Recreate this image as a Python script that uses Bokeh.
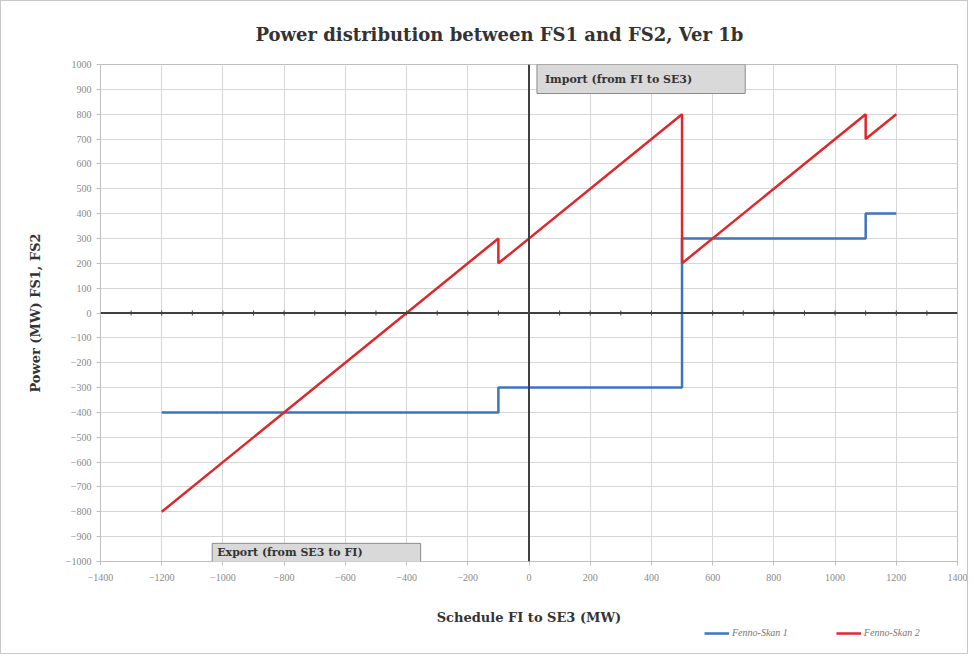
from bokeh.plotting import figure
from bokeh.layouts import column
from bokeh.models import Range1d, Span, Label, FixedTicker, Title, Legend, LegendItem
from bokeh.embed import file_html
from bokeh.resources import INLINE

# ---- data ----
fs1_x = [-1200, -100, -100, 500, 500, 1100, 1100, 1200]
fs1_y = [-400, -400, -300, -300, 300, 300, 400, 400]
fs2_x = [-1200, -100, -100, 500, 500, 1100, 1100, 1200]
fs2_y = [-800, 300, 200, 800, 200, 800, 700, 800]
series_names = ["Fenno-Skan 1", "Fenno-Skan 2"]
x_ticks = list(range(-1400, 1401, 200))
y_ticks = list(range(-1000, 1001, 100))
zero_axis_ticks = [v for v in range(-1300, 1301, 100) if v != 0]

SERIF = "Liberation Serif"
WIDE_SERIF = "DejaVu Serif"
BLUE = "#3d74be"
RED = "#e0282c"

p = figure(width=966, height=626, output_backend="svg", toolbar_location=None,
           x_range=Range1d(-1400, 1400), y_range=Range1d(-1000, 1000),
           min_border_left=99, min_border_right=10, min_border_top=63,
           min_border_bottom=66)

p.title = Title(text="Power distribution between FS1 and FS2, Ver 1b",
                text_font=WIDE_SERIF, text_font_size="18px", text_font_style="bold",
                text_color="#333333", align="left", offset=155, standoff=40)

p.outline_line_color = "#bfbfbf"
p.xaxis.ticker = FixedTicker(ticks=x_ticks)
p.yaxis.ticker = FixedTicker(ticks=y_ticks)
for ax in (p.xaxis, p.yaxis):
    ax.axis_line_color = "#bfbfbf"
    ax.major_tick_line_color = "#bfbfbf"
    ax.major_tick_out = 4
    ax.major_tick_in = 0
    ax.minor_tick_line_color = None
    ax.major_label_text_font = SERIF
    ax.major_label_text_font_size = "10px"
    ax.major_label_text_color = "#8a8a8a"
    ax.axis_label_text_font = WIDE_SERIF
    ax.axis_label_text_font_size = "13px"
    ax.axis_label_text_font_style = "bold"
    ax.axis_label_text_color = "#333333"

p.xaxis.major_label_standoff = 8
p.xaxis.axis_label = "Schedule FI to SE3 (MW)"
p.xaxis.axis_label_standoff = 26
p.yaxis.axis_label = "Power (MW) FS1, FS2"
p.yaxis.axis_label_standoff = 20

p.xgrid.ticker = FixedTicker(ticks=x_ticks)
p.ygrid.ticker = FixedTicker(ticks=y_ticks)
p.grid.grid_line_color = "#d6d6d6"
p.grid.grid_line_width = 1

# dark zero axes
p.add_layout(Span(location=0, dimension="width", line_color="#404040", line_width=2))
p.add_layout(Span(location=0, dimension="height", line_color="#404040", line_width=2))
p.scatter(x=zero_axis_ticks, y=[0] * len(zero_axis_ticks), marker="dash",
          angle=1.5708, size=5, line_color="#404040", line_width=1)

p.line(fs1_x, fs1_y, line_color=BLUE, line_width=2.5)
p.line(fs2_x, fs2_y, line_color=RED, line_width=2.5)

# annotation boxes
p.add_layout(Label(x=26, y=1000, text="Import (from FI to SE3)", text_font=WIDE_SERIF,
                   text_font_size="11px", text_font_style="bold", text_color="#333333",
                   text_baseline="top", background_fill_color="#d9d9d9",
                   border_line_color="#8c8c8c", border_line_width=1,
                   padding=[8, 53, 8, 8]))
p.add_layout(Label(x=-1035, y=-927, text="Export (from SE3 to FI)", text_font=WIDE_SERIF,
                   text_font_size="11px", text_font_style="bold", text_color="#333333",
                   text_baseline="top", background_fill_color="#d9d9d9",
                   border_line_color="#8c8c8c", border_line_width=1,
                   padding=[5, 58, 3, 9]))

# legend strip below the chart (legend renderers sit outside the strip's range)
p2 = figure(width=966, height=26, output_backend="svg", toolbar_location=None,
            x_range=Range1d(0, 1), y_range=Range1d(0, 1), min_border=0,
            outline_line_color=None)
p2.axis.visible = False
p2.grid.visible = False
l1 = p2.line([5, 6], [5, 6], line_color=BLUE, line_width=2.5)
l2 = p2.line([5, 6], [5, 6], line_color=RED, line_width=2.5)
legend = Legend(items=[LegendItem(label=series_names[0], renderers=[l1]),
                       LegendItem(label=series_names[1], renderers=[l2])],
                orientation="horizontal", location=(604, 15),
                label_text_font=SERIF, label_text_font_size="10px",
                label_text_font_style="italic", label_text_color="#777777",
                border_line_color=None, background_fill_alpha=0,
                glyph_width=25, glyph_height=10, label_height=10,
                label_standoff=3, spacing=48, padding=0, margin=0)
p2.add_layout(legend, "center")

layout = column(p, p2, spacing=0,
                styles={"border": "1px solid #c8c8c8", "background": "white"})

open("out.html", "w").write(file_html(layout, INLINE))
